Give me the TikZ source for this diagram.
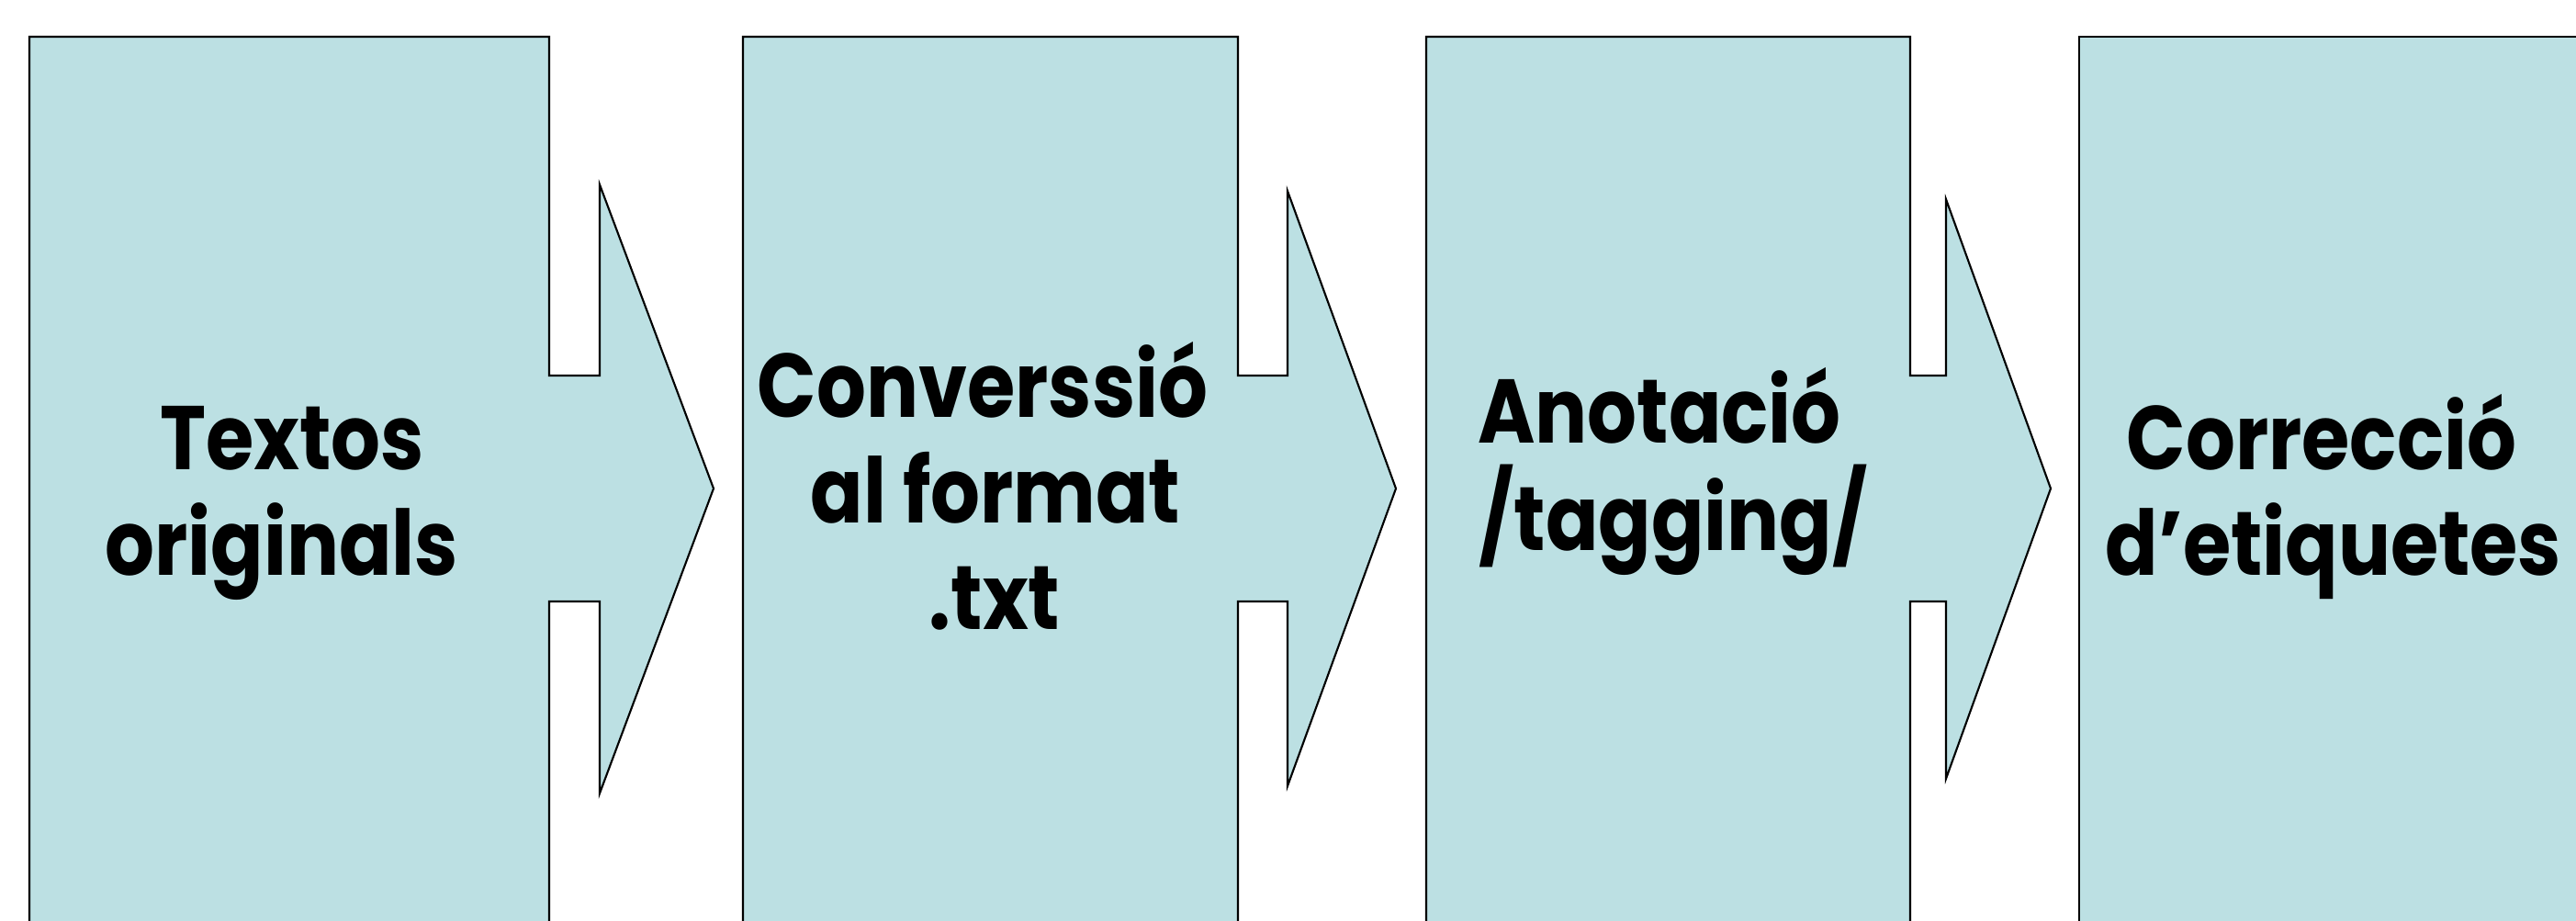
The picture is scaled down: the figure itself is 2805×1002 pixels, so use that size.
\documentclass[tikz,border=0pt]{standalone}
\usepackage{fontspec}
\setmainfont{Poppins}[FakeStretch=0.86]
\definecolor{stagefill}{RGB}{188,224,227}
\begin{document}
\begin{tikzpicture}[x=0.01cm,y=-0.01cm,
  stage/.style={draw=black, fill=stagefill, line width=0.6pt, line join=miter},
  lbl/.style={font=\fontsize{28}{34}\selectfont\bfseries, anchor=base, inner sep=0pt}]
\useasboundingbox (0,0) rectangle (2805,1002);
\clip (0,0) rectangle (2805,1002);

% stage 1 with its arrow
\draw[stage] (32,40) -- (598,40) -- (598,409) -- (653,409) -- (653,201)
  -- (777,532) -- (653,864) -- (653,655) -- (598,655) -- (598,1040)
  -- (32,1040) -- cycle;
% stage 2 with its arrow
\draw[stage] (809,40) -- (1348,40) -- (1348,409) -- (1402,409) -- (1402,208)
  -- (1520,532) -- (1402,856) -- (1402,655) -- (1348,655) -- (1348,1040)
  -- (809,1040) -- cycle;
% stage 3 with its arrow
\draw[stage] (1553,40) -- (2080,40) -- (2080,409) -- (2119,409) -- (2119,217)
  -- (2233,532) -- (2119,848) -- (2119,655) -- (2080,655) -- (2080,1040)
  -- (1553,1040) -- cycle;
% final stage
\draw[stage] (2264,40) -- (2840,40) -- (2840,1040) -- (2264,1040) -- cycle;

% labels
\node[lbl] (s1a) at (318,511) {Textos};
\node[lbl] (s1b) at (307,626) {originals};
\node[lbl] (s2a) at (1070,454) {Converssió};
\node[lbl] (s2b) at (1084,569) {al format};
\node[lbl] (s2c) at (1083,685) {.txt};
\node[lbl] (s3a) at (1807,482) {Anotació};
\node[lbl] (s3b) at (1822,599) {/tagging/};
\node[lbl] (s4a) at (2528,511) {Correcció};
\node[lbl] (s4b) at (2541,626) {d’etiquetes};
\end{tikzpicture}
\end{document}
